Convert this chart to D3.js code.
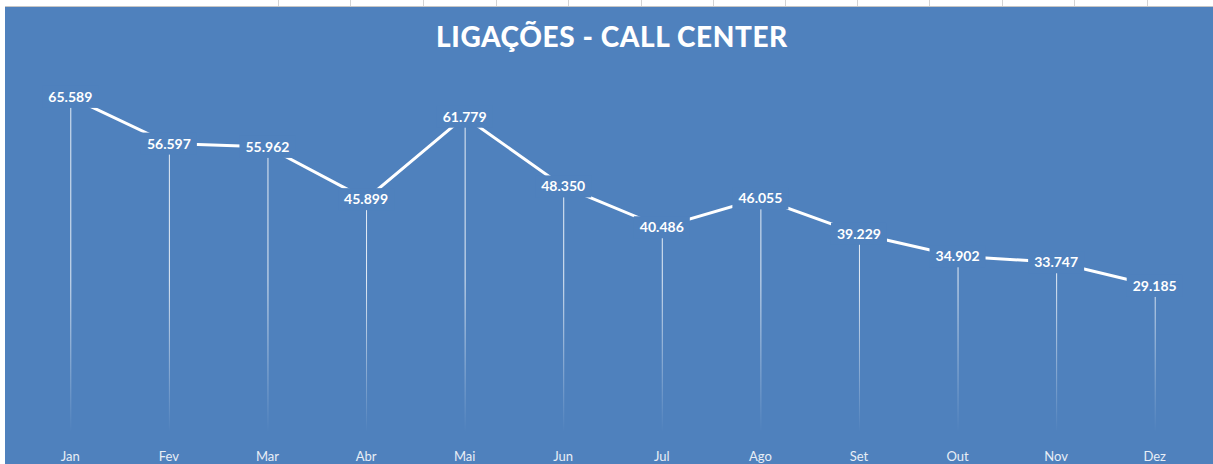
<!DOCTYPE html>
<html>
<head>
<meta charset="utf-8">
<script src="https://cdn.jsdelivr.net/npm/d3@7"></script>
<style>
  body { margin: 0; background: #fff; }
  text { font-family: Lato, "Open Sans", sans-serif; }
</style>
</head>
<body>
<div id="chart"></div>
<script>
var months = ["Jan", "Fev", "Mar", "Abr", "Mai", "Jun", "Jul", "Ago", "Set", "Out", "Nov", "Dez"];
var calls = [65589, 56597, 55962, 45899, 61779, 48350, 40486, 46055, 39229, 34902, 33747, 29185];
var chartTitle = "LIGAÇÕES - CALL CENTER";

var W = 1213, H = 464;
var bg = "#4f81bd";

var svg = d3.select("#chart").append("svg")
      .attr("width", W)
      .attr("height", H);

// spreadsheet grid peeking above the chart
var gridX = [278, 350, 423, 496, 568, 641, 713, 785, 857, 929, 1002, 1074, 1147];
svg.selectAll(".gridcol")
      .data(gridX)
      .enter()
      .append("line")
      .attr("x1", d => d + 0.5).attr("x2", d => d + 0.5)
      .attr("y1", 0).attr("y2", 6)
      .style("stroke", "#d4d4d4");
svg.append("line")
      .attr("x1", 5).attr("x2", W)
      .attr("y1", 6.5).attr("y2", 6.5)
      .style("stroke", "#c6c6c6");

// chart area
svg.append("rect")
      .attr("x", 5).attr("y", 7)
      .attr("width", W - 5).attr("height", H - 7)
      .style("fill", bg);

svg.append("text")
      .attr("x", 612)
      .attr("y", 47)
      .attr("text-anchor", "middle")
      .style("fill", "#fff")
      .style("font-size", "28px")
      .style("font-weight", "900")
      .style("letter-spacing", "0.6px")
      .text(chartTitle);

// scales
var x = d3.scaleBand()
      .domain(months)
      .range([21, 1204]);

var y = d3.scaleLinear()
      .domain([0, 70000])
      .range([437.5, 74]);

var cx = d => x(d) + x.bandwidth() / 2;

var data = months.map((m, i) => ({month: m, value: calls[i]}));

// fading gradient for the drop lines
var defs = svg.append("defs");
var grad = defs.append("linearGradient")
      .attr("id", "dropFade")
      .attr("gradientUnits", "userSpaceOnUse")
      .attr("x1", 0).attr("x2", 0)
      .attr("y1", 280).attr("y2", 432);
grad.append("stop").attr("offset", "0%").attr("stop-color", "#fff").attr("stop-opacity", 0.85);
grad.append("stop").attr("offset", "100%").attr("stop-color", "#fff").attr("stop-opacity", 0);

svg.append("g")
      .selectAll("line")
      .data(data)
      .enter()
      .append("line")
      .attr("x1", d => cx(d.month) + 0.5)
      .attr("x2", d => cx(d.month) + 0.5)
      .attr("y1", d => y(d.value))
      .attr("y2", 432)
      .style("stroke", "url(#dropFade)")
      .style("stroke-width", 1);

// the line
var line = d3.line()
      .x(d => cx(d.month))
      .y(d => y(d.value));

svg.append("path")
      .datum(data)
      .attr("d", line)
      .style("fill", "none")
      .style("stroke", "#fff")
      .style("stroke-width", 3);

// data labels with background boxes
var labels = svg.append("g")
      .selectAll("g")
      .data(data)
      .enter()
      .append("g")
      .attr("transform", d => "translate(" + cx(d.month) + "," + y(d.value) + ")");

labels.append("rect")
      .attr("x", -28).attr("y", -11)
      .attr("width", 56).attr("height", 22)
      .style("fill", bg);

labels.append("text")
      .attr("text-anchor", "middle")
      .attr("dy", "0.35em")
      .style("fill", "#fff")
      .style("font-size", "14px")
      .style("font-weight", "bold")
      .text(d => d3.format(",")(d.value).replace(",", "."));

// x axis
var xAxis = svg.append("g")
      .attr("transform", "translate(0,449)")
      .call(d3.axisBottom(x).tickSize(0));
xAxis.select(".domain").remove();
xAxis.selectAll("text")
      .style("fill", "#e8eef6")
      .style("font-size", "13px")
      .style("font-family", "Lato, sans-serif");
</script>
</body>
</html>
